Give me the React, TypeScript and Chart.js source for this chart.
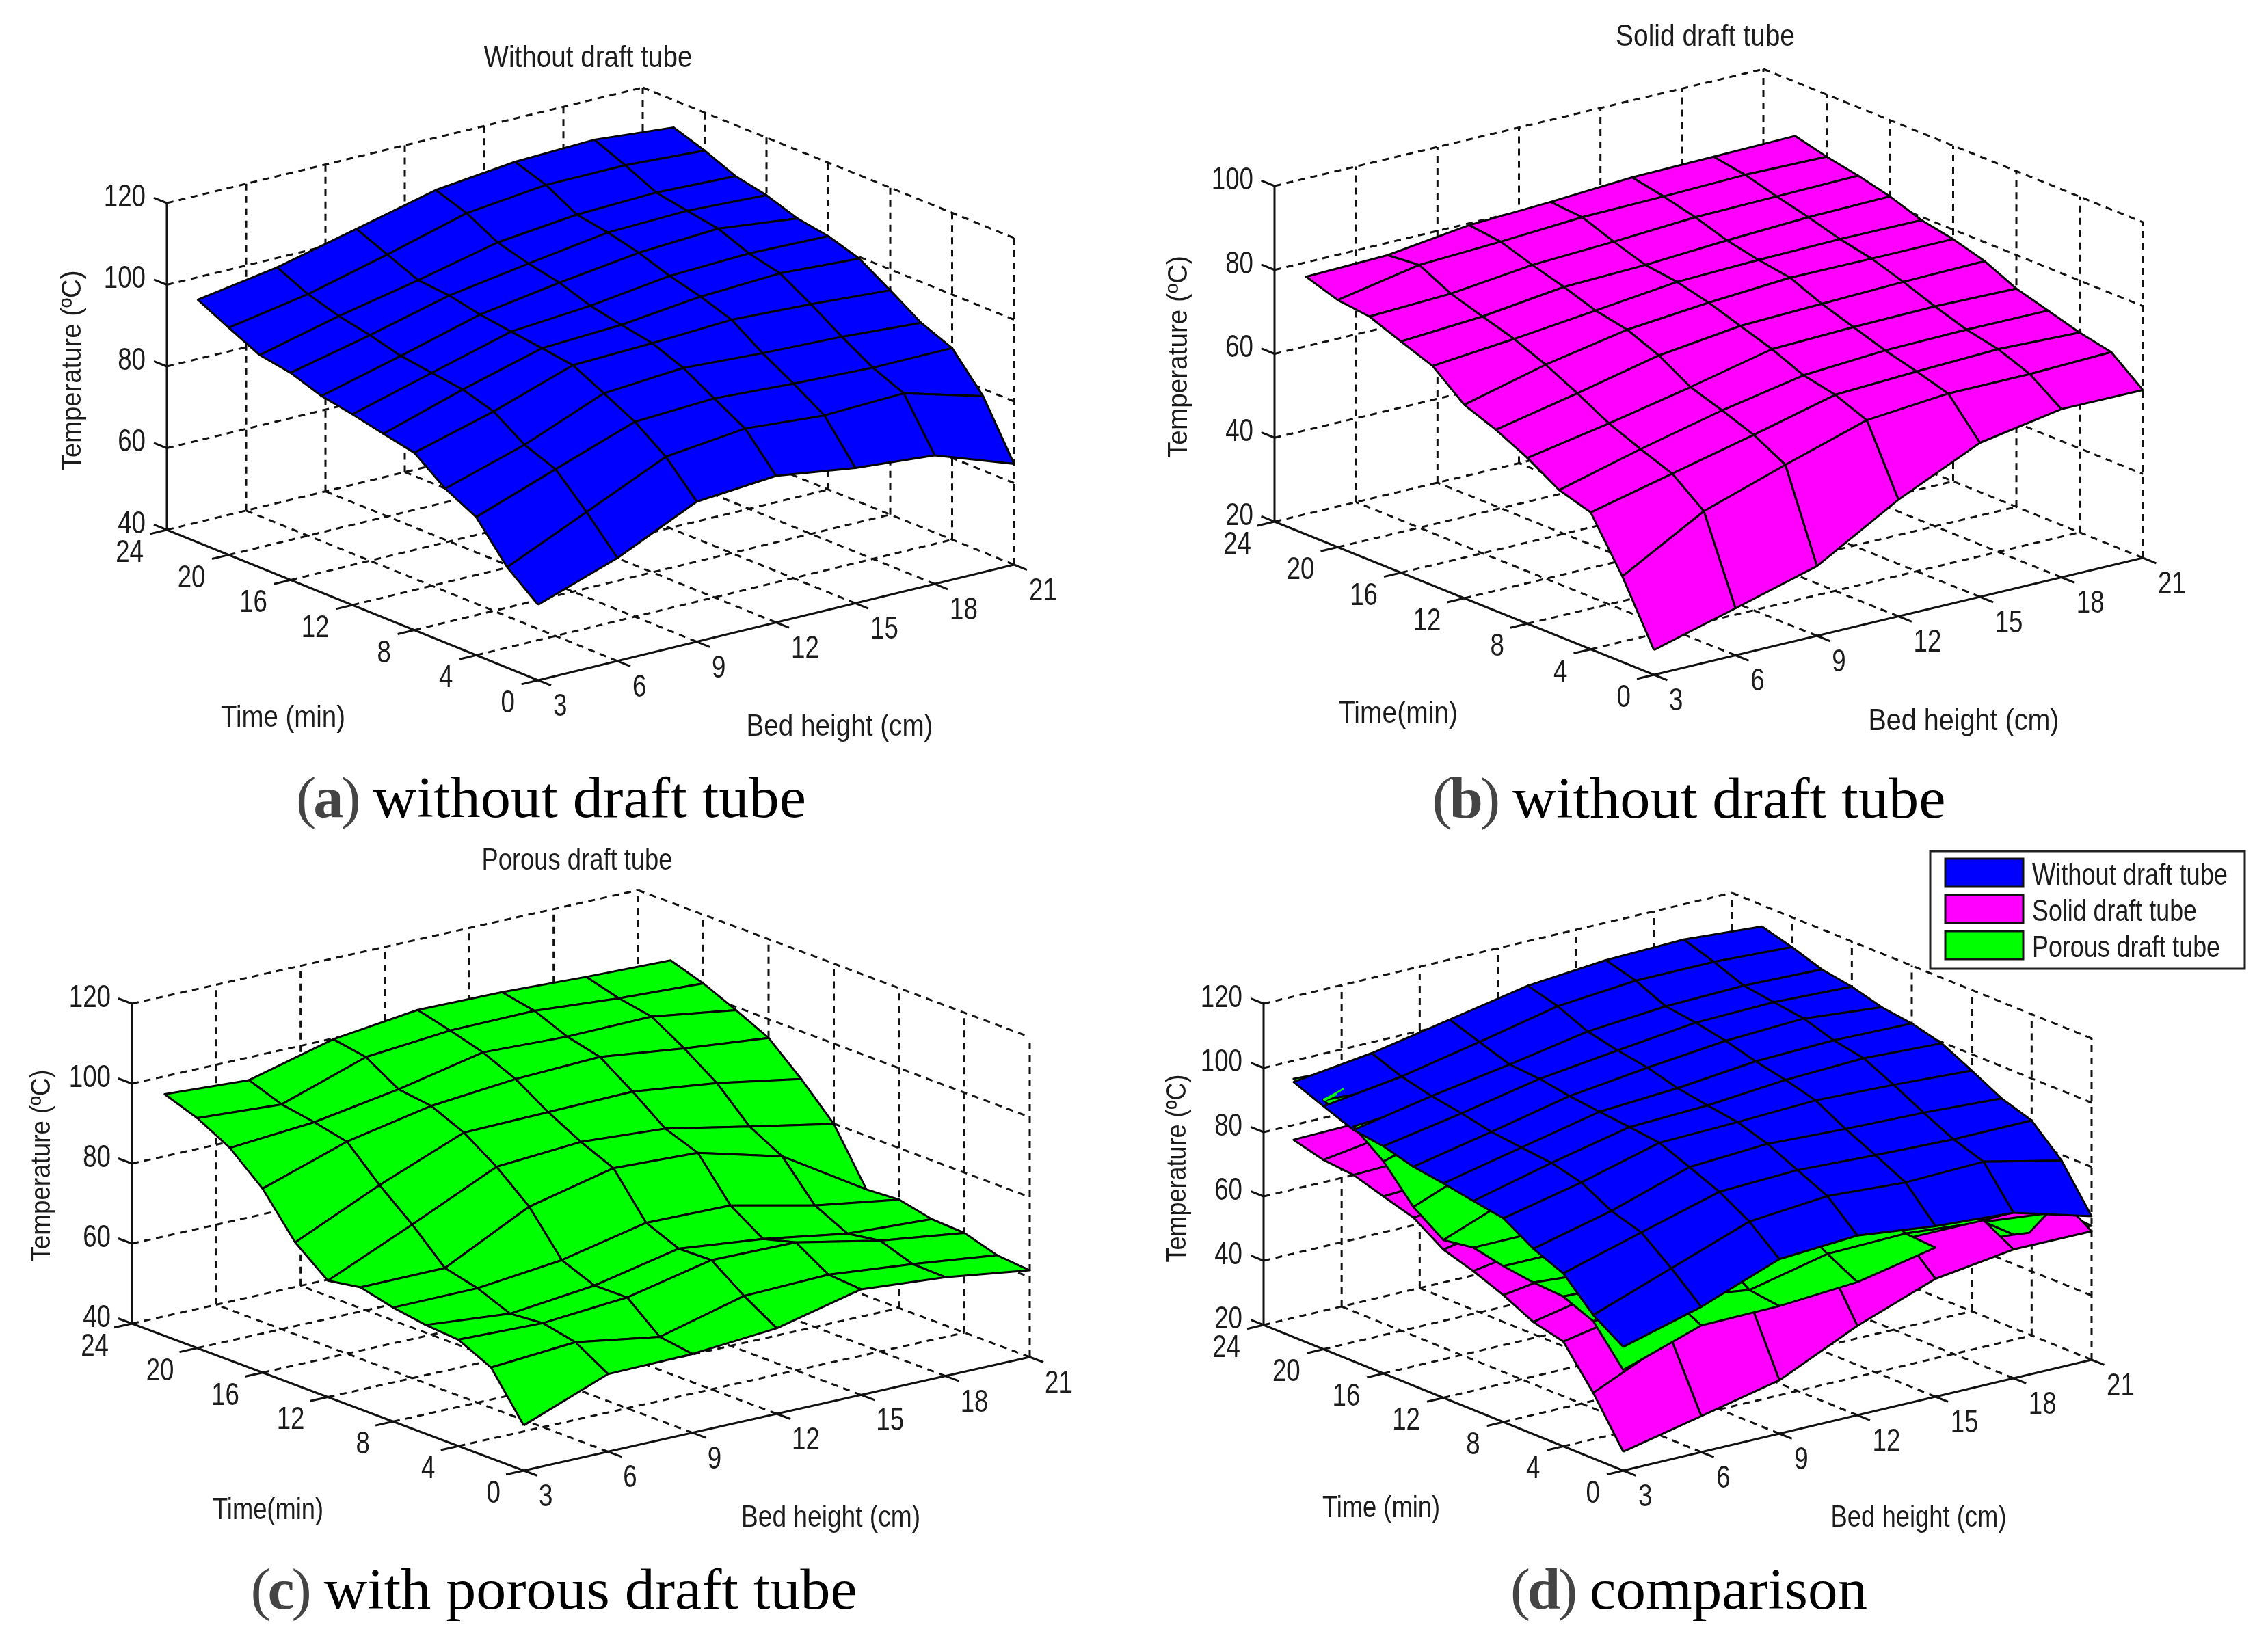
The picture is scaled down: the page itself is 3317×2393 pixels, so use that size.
import React, { useEffect, useRef } from "react";
import { Chart, registerables } from "chart.js";

Chart.register(...registerables);

// ---------- data ----------
const bedHeights = [3, 6, 9, 12, 15, 18, 21];
const times = [0, 2, 4, 6, 8, 10, 12, 14, 16, 18, 20, 22];
const bedTicks = [3, 6, 9, 12, 15, 18, 21];
const timeTicks = [0, 4, 8, 12, 16, 20, 24];
const tempTicksHigh = [40, 60, 80, 100, 120];
const tempTicksSolid = [20, 40, 60, 80, 100];
const tempTicksAll = [20, 40, 60, 80, 100, 120];

// rows: time 0..22, columns: bed height 3..21
const withoutDraftTube = [
  [58.5, 65.2, 74.3, 75.9, 73.1, 71.5, 64.7],
  [64.6, 73.4, 82.2, 84.4, 82.9, 83.6, 78.2],
  [73.8, 80.8, 87.7, 88.7, 87.6, 86.8, 86.9],
  [77.7, 83.7, 91.6, 93.1, 92.0, 91.3, 90.0],
  [83.4, 88.8, 95.4, 96.1, 97.1, 96.2, 94.9],
  [85.0, 91.1, 96.5, 97.5, 99.7, 100.7, 99.6],
  [86.7, 92.1, 97.5, 99.1, 101.7, 102.5, 102.0],
  [88.1, 93.2, 98.6, 101.7, 104.3, 105.5, 103.3],
  [90.7, 95.2, 100.2, 103.3, 106.2, 106.8, 105.9],
  [92.0, 96.8, 100.9, 105.4, 107.5, 108.2, 107.5],
  [95.6, 99.1, 104.1, 109.5, 111.7, 111.8, 110.7],
  [99.4, 102.6, 107.3, 112.1, 114.3, 115.0, 113.3],
];
const solidDraftTube = [
  [25.9, 31.2, 36.6, 47.8, 56.7, 60.1, 60.0],
  [40.4, 51.3, 57.7, 63.7, 65.4, 65.4, 66.0],
  [52.6, 57.2, 61.8, 66.7, 67.6, 68.3, 67.6],
  [54.9, 60.0, 64.6, 68.3, 69.6, 69.9, 69.8],
  [59.5, 63.1, 67.1, 71.5, 72.1, 72.4, 72.0],
  [63.2, 67.2, 71.6, 74.0, 74.6, 75.2, 75.5],
  [66.1, 71.0, 74.7, 76.5, 77.8, 77.7, 77.7],
  [72.3, 74.1, 76.2, 78.4, 79.0, 79.3, 79.2],
  [75.1, 76.4, 78.8, 79.4, 80.6, 81.5, 81.8],
  [78.0, 78.8, 81.0, 81.9, 83.1, 83.4, 83.7],
  [78.9, 82.6, 83.5, 84.7, 85.0, 85.5, 85.2],
  [81.4, 81.9, 84.4, 85.3, 86.5, 86.8, 87.1],
];
const porousDraftTube = [
  [51.3, 59.4, 59.7, 61.4, 66.4, 64.7, 61.7],
  [62.7, 64.3, 60.9, 66.4, 67.0, 64.9, 62.4],
  [66.6, 66.0, 67.7, 72.3, 72.0, 67.7, 64.9],
  [67.2, 65.3, 67.6, 72.1, 69.8, 66.4, 65.3],
  [68.5, 68.6, 70.9, 75.5, 75.1, 70.4, 67.1],
  [70.5, 70.6, 81.2, 86.1, 85.2, 79.6, 66.6],
  [69.1, 78.4, 88.1, 89.6, 88.2, 84.0, 79.9],
  [75.6, 85.2, 93.6, 94.0, 94.4, 91.8, 88.1],
  [86.0, 93.0, 97.2, 99.2, 100.0, 97.4, 95.3],
  [93.1, 94.8, 98.3, 102.8, 102.0, 102.3, 99.2],
  [97.5, 96.2, 103.3, 105.2, 105.4, 103.8, 102.8],
  [100.4, 99.2, 104.7, 107.3, 107.0, 106.1, 105.5],
];

// comparison plot: cells where the solid sheet is painted over the porous one
const solidOverPorousCells = ["0:4", "0:5"];
// the part of the porous sheet still showing in cell 0:5 [bed height, time]
const porousPatch = [[18, 0], [18.6, 0], [20.46, 2], [18, 2]];
// porous sheet poking through the blue one near its left edge [bed height, time, temperature]
const porousSpike = [[3, 20, 97.5], [3.6, 19.7, 100.5]];
const porousSpike2 = [[3, 20, 97.5], [3.5, 20, 98.5]];

const BLUE = "#0000FF";
const MAGENTA = "#FF00FF";
const GREEN = "#00FF00";
const INK = "#1c1c1c";
const TICK_FONT = "Liberation Sans";

const legendItems = [
  { label: "Without draft tube", color: BLUE, y: 1256, h: 41, width: 286 },
  { label: "Solid draft tube", color: MAGENTA, y: 1309, h: 41, width: 241 },
  { label: "Porous draft tube", color: GREEN, y: 1362, h: 41, width: 275 },
];

const panels = [
  {
    rect: [0, 0, 1658, 1197],
    O: [787, 995], R: [1483, 826], L: [244, 775], top: 297,
    zTicks: tempTicksHigh,
    surfaces: [{ values: withoutDraftTube, color: BLUE }],
    title: { text: "Without draft tube", x: 860, y: 83, w: 305 },
    timeLabel: { text: "Time (min)", x: 414, y: 1048, w: 182 },
    bedLabel: { text: "Bed height (cm)", x: 1228, y: 1061, w: 273 },
    tempLabel: { x: 104, y: 542, w: 293 },
    caption: { letter: "a", text: " without draft tube", x: 806, y: 1166, w: 746 },
  },
  {
    rect: [1658, 0, 1659, 1197],
    O: [2419, 987], R: [3134, 816], L: [1864, 763], top: 272,
    zTicks: tempTicksSolid,
    surfaces: [{ values: solidDraftTube, color: MAGENTA }],
    title: { text: "Solid draft tube", x: 2494, y: 52, w: 262 },
    timeLabel: { text: "Time(min)", x: 2045, y: 1042, w: 174 },
    bedLabel: { text: "Bed height (cm)", x: 2872, y: 1053, w: 279 },
    tempLabel: { x: 1722, y: 522, w: 296 },
    caption: { letter: "b", text: " without draft tube", x: 2470, y: 1167, w: 751 },
  },
  {
    rect: [0, 1197, 1658, 1196],
    O: [766, 2151], R: [1506, 1985], L: [193, 1936], top: 1468,
    zTicks: tempTicksHigh,
    surfaces: [{ values: porousDraftTube, color: GREEN }],
    title: { text: "Porous draft tube", x: 844, y: 1257, w: 279 },
    timeLabel: { text: "Time(min)", x: 392, y: 2207, w: 162 },
    bedLabel: { text: "Bed height (cm)", x: 1215, y: 2218, w: 262 },
    tempLabel: { x: 59, y: 1705, w: 281 },
    caption: { letter: "c", text: " with porous draft tube", x: 810, y: 2324, w: 887 },
  },
  {
    rect: [1658, 1197, 1659, 1196],
    O: [2374, 2151], R: [3059, 1989], L: [1848, 1938], top: 1468,
    zTicks: tempTicksAll,
    surfaces: [
      { values: withoutDraftTube, color: BLUE, top: true },
      { values: solidDraftTube, color: MAGENTA },
      { values: porousDraftTube, color: GREEN },
    ],
    title: null,
    timeLabel: { text: "Time (min)", x: 2020, y: 2204, w: 172 },
    bedLabel: { text: "Bed height (cm)", x: 2806, y: 2218, w: 257 },
    tempLabel: { x: 1720, y: 1709, w: 275 },
    caption: { letter: "d", text: " comparison", x: 2470, y: 2324, w: 522 },
    legend: true,
  },
];

// ---------- orthographic projection of the 3-D box into panel units ----------
function makeProjector(p: any) {
  const zMin = p.zTicks[0];
  const zMax = p.zTicks[p.zTicks.length - 1];
  const bx = (p.R[0] - p.O[0]) / 18;
  const by = (p.R[1] - p.O[1]) / 18;
  const tx = (p.L[0] - p.O[0]) / 24;
  const ty = (p.L[1] - p.O[1]) / 24;
  const zh = (p.L[1] - p.top) / (zMax - zMin);
  return (bed: number, time: number, temp: number) => ({
    x: p.O[0] + (bed - 3) * bx + time * tx,
    y: p.O[1] + (bed - 3) * by + time * ty - (temp - zMin) * zh,
  });
}

// bilinear reading of a sheet between its grid nodes
function sheetAt(values: number[][], bed: number, time: number) {
  const j = Math.min(Math.floor((bed - 3) / 3), bedHeights.length - 2);
  const i = Math.min(Math.floor(time / 2), times.length - 2);
  const u = (bed - bedHeights[j]) / 3;
  const v = (time - times[i]) / 2;
  return (
    values[i][j] * (1 - u) * (1 - v) +
    values[i][j + 1] * u * (1 - v) +
    values[i + 1][j] * (1 - u) * v +
    values[i + 1][j + 1] * u * v
  );
}

function lineSet(data: any[], dash: number[] | null, width: number, color = "#111111") {
  return {
    data,
    showLine: true,
    fill: false,
    borderColor: color,
    borderWidth: width,
    borderDash: dash || [],
    pointRadius: 0,
    tension: 0,
    clip: false,
    borderCapStyle: "butt",
  };
}

function quadSet(data: any[], color: string) {
  return {
    data,
    showLine: true,
    fill: "shape",
    backgroundColor: color,
    borderColor: "#050505",
    borderWidth: 3,
    pointRadius: 0,
    tension: 0,
    clip: false,
    borderJoinStyle: "round",
  };
}

function buildDatasets(p: any) {
  const P = makeProjector(p);
  const zMin = p.zTicks[0];
  const zMax = p.zTicks[p.zTicks.length - 1];
  const DASH = [10, 8];
  const W = 3;
  const out: any[] = [];
  // floor grid
  for (const b of bedTicks) out.push(lineSet([P(b, 0, zMin), P(b, 24, zMin)], b === 3 ? null : DASH, W));
  for (const t of timeTicks) out.push(lineSet([P(3, t, zMin), P(21, t, zMin)], t === 0 ? null : DASH, W));
  // back walls
  for (const b of bedTicks) out.push(lineSet([P(b, 24, zMin), P(b, 24, zMax)], b === 3 ? null : DASH, W));
  for (const t of timeTicks) if (t !== 24) out.push(lineSet([P(21, t, zMin), P(21, t, zMax)], DASH, W));
  for (const z of p.zTicks) {
    if (z === zMin) continue;
    out.push(lineSet([P(3, 24, z), P(21, 24, z)], DASH, W));
    out.push(lineSet([P(21, 24, z), P(21, 0, z)], DASH, W));
  }
  // tick marks
  const tk = 0.035;
  for (const b of bedTicks) out.push(lineSet([P(b, 0, zMin), P(b, -24 * tk, zMin)], null, W));
  for (const t of timeTicks) out.push(lineSet([P(3, t, zMin), P(3 - 18 * tk, t, zMin)], null, W));
  for (const z of p.zTicks) out.push(lineSet([P(3, 24, z), P(3, 24 + 24 * tk, z)], null, W));
  // surfaces: cells from back to front, lower sheet first inside each cell
  for (let i = times.length - 2; i >= 0; i--) {
    for (let j = bedHeights.length - 2; j >= 0; j--) {
      const key = `${i}:${j}`;
      const swap = p.legend && solidOverPorousCells.includes(key);
      const cell = p.surfaces.map((s: any) => {
        const v = s.values;
        let rank = (v[i][j] + v[i][j + 1] + v[i + 1][j] + v[i + 1][j + 1]) / 4;
        if (s.top) rank += 1000;
        if (swap && s.color === MAGENTA) rank += 500;
        return { s, rank };
      });
      cell.sort((a: any, b: any) => a.rank - b.rank);
      for (const { s } of cell) {
        const v = s.values;
        if (s.top && p.legend && key === "0:5") {
          out.push(
            quadSet(
              [...porousPatch, porousPatch[0]].map(([b, t]) => P(b, t, sheetAt(porousDraftTube, b, t))),
              GREEN
            )
          );
        }
        out.push(
          quadSet(
            [
              P(bedHeights[j], times[i], v[i][j]),
              P(bedHeights[j + 1], times[i], v[i][j + 1]),
              P(bedHeights[j + 1], times[i + 1], v[i + 1][j + 1]),
              P(bedHeights[j], times[i + 1], v[i + 1][j]),
              P(bedHeights[j], times[i], v[i][j]),
            ],
            s.color
          )
        );
      }
    }
  }
  if (p.legend) {
    out.push(lineSet(porousSpike.map(([b, t, z]) => P(b, t, z)), null, 2.5, GREEN));
    out.push(lineSet(porousSpike2.map(([b, t, z]) => P(b, t, z)), null, 4, GREEN));
  }
  // Chart.js paints the first dataset last
  return out.reverse();
}

function fitText(ctx: any, text: string, x: number, y: number, w: number, size: number, rotate = false) {
  ctx.save();
  ctx.font = `${size}px "${TICK_FONT}"`;
  ctx.fillStyle = INK;
  ctx.textAlign = "center";
  ctx.textBaseline = "middle";
  const m = ctx.measureText(text).width;
  ctx.translate(x, y);
  if (rotate) ctx.rotate(-Math.PI / 2);
  ctx.scale(w / m, 1);
  ctx.fillText(text, 0, 3);
  ctx.restore();
}

function tickText(ctx: any, text: string, x: number, y: number, align: string) {
  ctx.save();
  ctx.font = `47px "${TICK_FONT}"`;
  ctx.fillStyle = INK;
  ctx.textAlign = align;
  ctx.textBaseline = "middle";
  ctx.translate(x, y);
  ctx.scale(0.78, 1);
  ctx.fillText(text, 0, 3);
  ctx.restore();
}

function textPlugin(p: any) {
  const P = makeProjector(p);
  const zMin = p.zTicks[0];
  return {
    id: "panelText",
    afterDraw(chart: any) {
      const { ctx, scales } = chart;
      const px = (v: number) => scales.x.getPixelForValue(v);
      const py = (v: number) => scales.y.getPixelForValue(v);
      for (const b of bedTicks) {
        const q = P(b, 0, zMin);
        tickText(ctx, String(b), px(q.x + 22), py(q.y + 36), "left");
      }
      for (const t of timeTicks) {
        const q = P(3, t, zMin);
        tickText(ctx, String(t), px(q.x - 34), py(q.y + 31), "right");
      }
      for (const z of p.zTicks) {
        const q = P(3, 24, z);
        tickText(ctx, String(z), px(q.x - 31), py(q.y - 11), "right");
      }
      if (p.title) fitText(ctx, p.title.text, px(p.title.x), py(p.title.y), p.title.w, 45);
      fitText(ctx, p.timeLabel.text, px(p.timeLabel.x), py(p.timeLabel.y), p.timeLabel.w, 45);
      fitText(ctx, p.bedLabel.text, px(p.bedLabel.x), py(p.bedLabel.y), p.bedLabel.w, 45);
      fitText(ctx, "Temperature (\u00BAC)", px(p.tempLabel.x), py(p.tempLabel.y), p.tempLabel.w, 40, true);
      if (p.legend) {
        ctx.save();
        ctx.fillStyle = "#ffffff";
        ctx.strokeStyle = "#222222";
        ctx.lineWidth = 3;
        const lx = px(2823), ly = py(1245);
        ctx.fillRect(lx, ly, 460, 172);
        ctx.strokeRect(lx, ly, 460, 172);
        for (const it of legendItems) {
          ctx.fillStyle = it.color;
          ctx.strokeStyle = "#111111";
          ctx.lineWidth = 3;
          ctx.fillRect(px(2845), py(it.y), 114, it.h);
          ctx.strokeRect(px(2845), py(it.y), 114, it.h);
          fitText(ctx, it.label, px(2972 + it.width / 2), py(it.y + 23), it.width, 45);
        }
        ctx.restore();
      }
    },
  };
}

const PREFIX_SPACING = -4;

function captionScale(letter: string, text: string, target: number) {
  const c = document.createElement("canvas").getContext("2d") as any;
  c.font = '84px "Liberation Serif"';
  const plain = c.measureText(`()${text}`).width;
  c.font = 'bold 84px "Liberation Serif"';
  const bold = c.measureText(letter).width;
  return target / (plain + bold + 3 * PREFIX_SPACING);
}

function Panel({ p }: { p: any }) {
  const ref = useRef<HTMLCanvasElement | null>(null);
  const [left, top, width, height] = p.rect;
  useEffect(() => {
    const chart = new Chart(ref.current as HTMLCanvasElement, {
      type: "scatter",
      data: { datasets: buildDatasets(p) },
      options: {
        responsive: false,
        maintainAspectRatio: false,
        animation: false,
        events: [],
        layout: { padding: 0 },
        plugins: { legend: { display: false }, tooltip: { enabled: false }, title: { display: false } },
        scales: {
          x: { type: "linear", display: false, min: left, max: left + width },
          y: { type: "linear", display: false, min: top, max: top + height, reverse: true },
        },
      },
      plugins: [textPlugin(p)],
    } as any);
    return () => chart.destroy();
  }, [p]);
  const k = captionScale(p.caption.letter, p.caption.text, p.caption.w);
  return (
    <>
      <canvas
        ref={ref}
        width={width}
        height={height}
        style={{ position: "absolute", left, top, width, height, display: "block" }}
      />
      <div
        style={{
          position: "absolute",
          left: p.caption.x,
          top: p.caption.y,
          transform: `translate(-50%, -50%) scaleX(${k})`,
          font: '84px "Liberation Serif"',
          color: "#000",
          whiteSpace: "pre",
        }}
      >
        <span style={{ color: "#444", letterSpacing: PREFIX_SPACING }}>
          (<b>{p.caption.letter}</b>)
        </span>
        {p.caption.text}
      </div>
    </>
  );
}

export default function App() {
  return (
    <div style={{ position: "absolute", left: 0, top: 0, width: 3317, height: 2393, background: "#fff", overflow: "hidden" }}>
      {panels.map((p, i) => (
        <Panel key={i} p={p} />
      ))}
    </div>
  );
}
